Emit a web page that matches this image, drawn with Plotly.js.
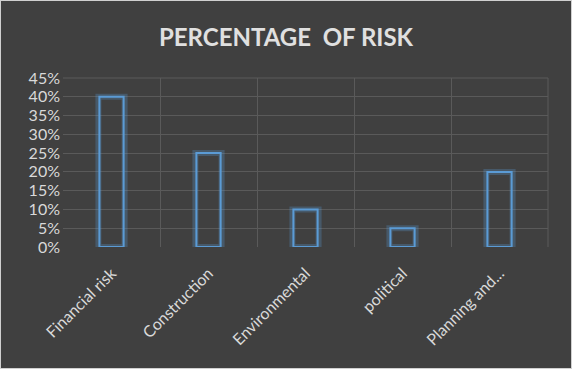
<!DOCTYPE html>
<html><head><meta charset="utf-8">
<script src="https://cdn.plot.ly/plotly-3.0.1.min.js"></script>
<style>
html,body{margin:0;padding:0;background:#404040;}
#wrap{width:570px;height:367px;border:1px solid #d0d0d0;overflow:hidden;}
#chart{width:570px;height:367px;}
</style></head>
<body><div id="wrap"><div id="chart"></div></div>
<script>
const categories = ["Financial risk", "Construction", "Environmental", "political", "Planning and..."];
const values = [0.40, 0.25, 0.10, 0.05, 0.20];
const chartTitle = "PERCENTAGE  OF RISK";

const glow = {
  type: "bar", x: categories, y: values, width: 0.27,
  marker: {color: "rgba(0,0,0,0)", line: {color: "rgba(91,155,213,0.28)", width: 6}},
  hoverinfo: "skip", showlegend: false
};
const bars = {
  type: "bar", x: categories, y: values, width: 0.25,
  marker: {color: "rgba(0,0,0,0)", line: {color: "#5b9bd5", width: 2}},
  showlegend: false
};
const layout = {
  width: 570, height: 367,
  paper_bgcolor: "#404040", plot_bgcolor: "#404040",
  margin: {l: 62, r: 23, t: 77, b: 121},
  barmode: "overlay",
  font: {family: "Lato, 'Open Sans', sans-serif", color: "#d9d9d9", size: 14},
  title: {text: "<b>" + chartTitle + "</b>", x: 0.5, xanchor: "center", y: 0.9, yanchor: "middle",
          font: {size: 24, color: "#e0e0e0", family: "Lato, 'Open Sans', sans-serif"}},
  xaxis: {type: "category", tickson: "boundaries", showgrid: true, gridcolor: "#5a5a5a", gridwidth: 1,
          ticks: "", tickangle: -45, showline: false, zeroline: false, ticklabelstandoff: 13,
          tickfont: {size: 16, color: "#d9d9d9"}},
  yaxis: {range: [0, 0.45], dtick: 0.05, tickformat: ".0%", showgrid: true, gridcolor: "#5a5a5a",
          gridwidth: 1, zeroline: false, showline: false, ticks: "", ticklabelstandoff: 2,
          tickfont: {size: 16, color: "#d9d9d9"}},
  shapes: [{type: "line", xref: "paper", yref: "paper", x0: 0, x1: 1, y0: 1, y1: 1, line: {color: "#5a5a5a", width: 1}},
           {type: "line", xref: "paper", yref: "paper", x0: 1, x1: 1, y0: 0, y1: 1, line: {color: "#5a5a5a", width: 1}}]
};
Plotly.newPlot("chart", [glow, bars], layout, {displayModeBar: false, staticPlot: true});
</script></body></html>
